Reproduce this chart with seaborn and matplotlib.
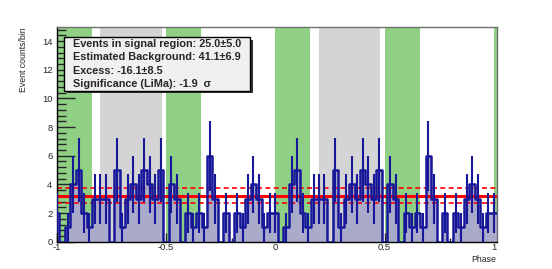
import numpy as np
import pandas as pd
import matplotlib
matplotlib.use('Agg')
import matplotlib.pyplot as plt
from matplotlib.patches import Rectangle
from matplotlib.ticker import MultipleLocator
import seaborn as sns

# counts per 0.025 phase bin over one period (bin centres 0, 0.025, ... 0.975), drawn twice
counts_period = [2, 0, 1, 4, 5, 2, 1, 3, 3, 3,
                 0, 5, 1, 3, 4, 3, 5, 4, 3, 5,
                 0, 4, 3, 0, 2, 1, 2, 1, 6, 3,
                 0, 2, 0, 2, 1, 3, 4, 3, 1, 2]
signal_bands = [(0.0, 0.16), (0.5, 0.66)]
off_bands = [(0.2, 0.48)]
bkg_level = 3.2
bkg_err = 0.53
info_lines = ["Events in signal region: 25.0\u00b15.0",
              "Estimated Background: 41.1\u00b16.9",
              "Excess: -16.1\u00b18.5",
              "Significance (LiMa): -1.9  \u03c3"]

nper = len(counts_period)
edges = [round(-1.0125 + 0.025 * i, 5) for i in range(2 * nper + 2)]
nb = len(edges) - 1
counts = np.array([counts_period[i % nper] for i in range(nb)], dtype=float)
centers = np.array(edges[:-1]) + 0.0125
df = pd.DataFrame({'phase': centers, 'counts': counts})

sns.set_style('white')
plt.rcParams['font.family'] = ['Liberation Sans', 'DejaVu Sans']

blue = '#17179a'
fig = plt.figure(figsize=(5.52, 2.69), dpi=100)
ax = fig.add_axes([0.1027, 0.1015, 0.797, 0.799])

for shift in (-1, 0, 1):
    for lo, hi in signal_bands:
        ax.axvspan(lo + shift, hi + shift, color='#8fd084', lw=0, zorder=0)
    for lo, hi in off_bands:
        ax.axvspan(lo + shift, hi + shift, color='#d4d4d4', lw=0, zorder=0)

sns.histplot(data=df, x='phase', weights='counts', bins=edges, element='step', fill=True,
             color='#aaaacb', alpha=1, linewidth=0, ax=ax, zorder=1)

ax.axhline(bkg_level, color='red', lw=2.2, zorder=2)
ax.axhline(bkg_level + bkg_err, color='red', lw=1.2, ls=(0, (3, 2)), zorder=2)
ax.axhline(bkg_level - bkg_err, color='red', lw=1.2, ls=(0, (3, 2)), zorder=2)

sns.histplot(data=df, x='phase', weights='counts', bins=edges, element='step', fill=False,
             color=blue, linewidth=1.8, ax=ax, zorder=4)
ax.errorbar(centers, counts, yerr=np.sqrt(counts), fmt='none', ecolor=blue,
            elinewidth=1.5, capsize=0, zorder=4)

ax.set_xlim(-1, 1.0125)
ax.set_ylim(0, 15)
ax.set_xticks([-1, -0.5, 0, 0.5, 1])
ax.set_xticklabels(['-1', '-0.5', '0', '0.5', '1'])
ax.set_yticks(range(0, 16, 2))
ax.xaxis.set_minor_locator(MultipleLocator(0.1))
ax.yaxis.set_minor_locator(MultipleLocator(0.4))
ax.tick_params(axis='y', which='major', direction='in', length=13, width=1,
               labelsize=6.8, pad=3, left=True)
ax.tick_params(axis='y', which='minor', direction='in', length=6.5, width=1, left=True)
ax.tick_params(axis='x', which='major', direction='in', length=6.5, width=1,
               labelsize=6.8, pad=1.2, bottom=True)
ax.tick_params(axis='x', which='minor', direction='in', length=3.2, width=1, bottom=True)
ax.set_xlabel('')
ax.set_ylabel('')
for side in ('left', 'bottom'):
    ax.spines[side].set_color('black')
    ax.spines[side].set_linewidth(1)
for side in ('top', 'right'):
    ax.spines[side].set_color('#707070')
    ax.spines[side].set_linewidth(1)

fig.text(0.043, 0.9, 'Event counts/bin', rotation=90, ha='center', va='top', fontsize=6.3)
fig.text(496 / 552, 1 - 259.5 / 269, 'Phase', ha='right', va='center', fontsize=6.3)

# info box with drop shadow
bx, by, bw, bh = 64.3 / 552, 1 - 90.7 / 269, 185.7 / 552, 53.4 / 269
fig.patches.append(Rectangle((bx + 2.5 / 552, by - 2.5 / 269), bw, bh, transform=fig.transFigure,
                             facecolor='#333333', edgecolor='none', zorder=5))
fig.patches.append(Rectangle((bx, by), bw, bh, transform=fig.transFigure,
                             facecolor='#f0f0f0', edgecolor='black', lw=1, zorder=6))
for i, line in enumerate(info_lines):
    fig.text(73.3 / 552, 1 - (44 + 13.3 * i) / 269, line, ha='left', va='center',
             fontsize=7.8, fontweight='bold', zorder=7)

fig.savefig('out.png', dpi=100)
